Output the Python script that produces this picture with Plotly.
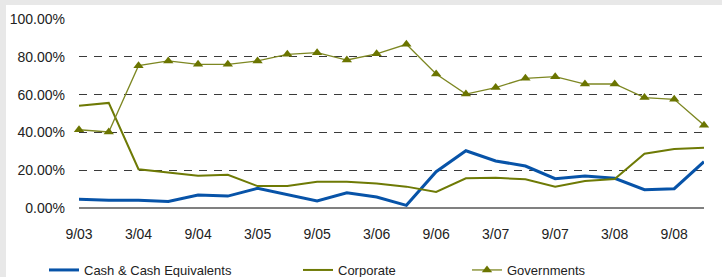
import plotly.graph_objects as go

quarters = ["9/03", "12/03", "3/04", "6/04", "9/04", "12/04", "3/05", "6/05", "9/05", "12/05",
            "3/06", "6/06", "9/06", "12/06", "3/07", "6/07", "9/07", "12/07", "3/08", "6/08",
            "9/08", "12/08"]
tick_labels = quarters[::2]

cash = [4.6, 4.1, 4.1, 3.5, 6.9, 6.3, 10.4, 6.9, 3.7, 8.1, 5.8, 1.4, 19.2, 30.3,
        24.9, 22.2, 15.5, 16.9, 15.7, 9.7, 10.2, 24.5]
corporate = [54.1, 55.6, 20.5, 18.7, 17.1, 17.6, 11.6, 11.6, 13.9, 13.9, 13.0, 11.3, 8.5, 15.7,
             16.0, 15.2, 11.3, 14.3, 15.3, 28.7, 31.2, 31.9]
governments = [41.4, 40.2, 75.3, 77.8, 76.0, 76.0, 77.8, 81.3, 82.2, 78.3, 81.6, 86.6, 70.9, 60.3,
               63.7, 68.6, 69.5, 65.6, 65.6, 58.4, 57.5, 43.8]
y_ticks = [0, 20, 40, 60, 80, 100]
y_tick_labels = ["0.00%", "20.00%", "40.00%", "60.00%", "80.00%", "100.00%"]

FONT = "Liberation Sans, Arial, sans-serif"
TXT = "#222222"

fig = go.Figure()
fig.add_trace(go.Scatter(x=quarters, y=cash, mode="lines", name="Cash & Cash Equivalents",
                         line=dict(color="#0753A8", width=3), cliponaxis=False, legend="legend"))
fig.add_trace(go.Scatter(x=quarters, y=corporate, mode="lines", name="Corporate",
                         line=dict(color="#6E7A05", width=2), cliponaxis=False, legend="legend2"))
fig.add_trace(go.Scatter(x=quarters, y=governments, mode="lines+markers", name="Governments",
                         line=dict(color="#7D8722", width=1.3),
                         marker=dict(symbol="triangle-up", size=9, color="#6B7500"),
                         cliponaxis=False, legend="legend3"))

W, H = 722, 277
L, R, T, B = 79, 18, 19, 69
pw, ph = W - L - R, H - T - B

def px(xp):
    return (xp - L) / pw

def py(yp):
    return (H - B - yp) / ph

fig.add_shape(type="rect", xref="paper", yref="paper", x0=px(6), x1=px(W + 5), y0=py(5), y1=py(H + 5),
              fillcolor="white", line=dict(width=0), layer="below")

legend_common = dict(orientation="h", yanchor="middle", xanchor="left",
                     xref="container", yref="container", y=(H - 270) / H,
                     font=dict(family=FONT, size=13, color=TXT),
                     bgcolor="rgba(0,0,0,0)", borderwidth=0)

fig.update_layout(
    width=W, height=H,
    margin=dict(l=L, r=R, t=T, b=B, autoexpand=False),
    paper_bgcolor="#e8e8e8",
    plot_bgcolor="white",
    showlegend=True,
    font=dict(family=FONT, size=14, color=TXT),
    legend=dict(x=44 / W, **legend_common),
    legend2=dict(x=298 / W, **legend_common),
    legend3=dict(x=467 / W, **legend_common),
    xaxis=dict(type="category", range=[0, len(quarters) - 1], tickmode="array",
               tickvals=tick_labels, ticktext=tick_labels, showgrid=False, showline=False,
               ticks="", ticklabelstandoff=16, zeroline=False, automargin=False,
               tickfont=dict(family=FONT, size=14, color=TXT)),
    yaxis=dict(range=[0, 100], tickmode="array", tickvals=y_ticks, ticktext=y_tick_labels,
               showgrid=True, gridcolor="#3a3a3a", gridwidth=1, griddash="8px,7px",
               zeroline=True, zerolinecolor="#808080", zerolinewidth=1.5,
               showline=False, ticks="", ticklabelstandoff=13, automargin=False,
               tickfont=dict(family=FONT, size=14, color=TXT)),
)

fig.write_html("out.html", config={"displayModeBar": False},
               post_script="document.body.style.margin='0px';document.body.style.overflow='hidden';")
